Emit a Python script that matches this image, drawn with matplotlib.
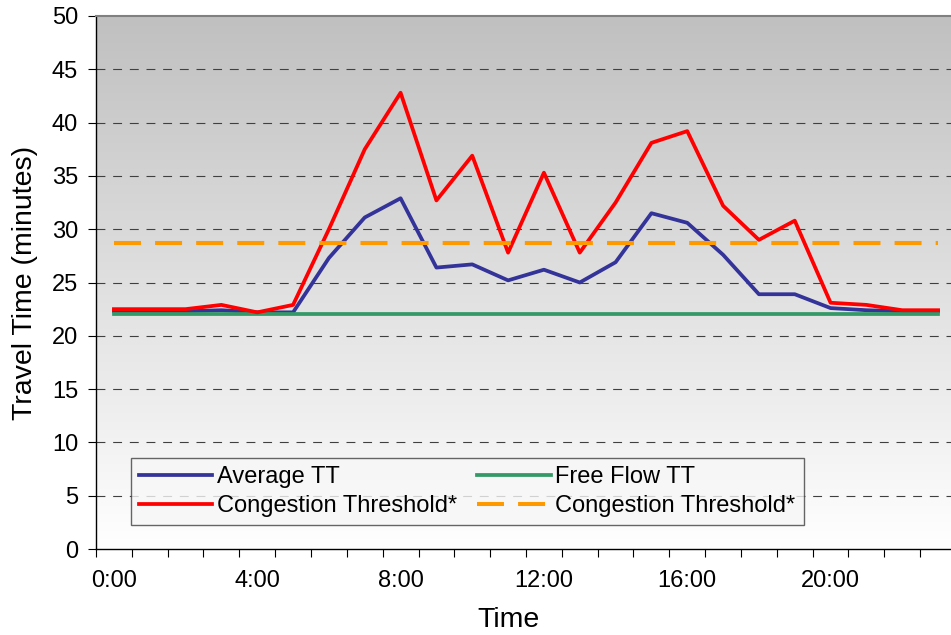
import numpy as np
import matplotlib
matplotlib.use("Agg")
import matplotlib.pyplot as plt

plt.rcParams['font.family'] = ['Liberation Sans', 'DejaVu Sans']

hours = [f"{h}:00" for h in range(24)]
average_tt = [22.3, 22.3, 22.3, 22.4, 22.2, 22.2, 27.3, 31.1, 32.9, 26.4, 26.7, 25.2,
              26.2, 25.0, 26.9, 31.5, 30.6, 27.6, 23.9, 23.9, 22.6, 22.4, 22.3, 22.3]
free_flow_tt = [22.0] * 24
congestion_red = [22.5, 22.5, 22.5, 22.9, 22.2, 22.9, 30.0, 37.5, 42.8, 32.7, 36.9, 27.8,
                  35.3, 27.8, 32.5, 38.1, 39.2, 32.2, 29.0, 30.8, 23.1, 22.9, 22.4, 22.4]
congestion_threshold = [28.7] * 24
label_hours = [0, 4, 8, 12, 16, 20]

W, H = 951, 635
fig = plt.figure(figsize=(W / 100, H / 100), dpi=100)
fig.patch.set_facecolor('white')
left, right, top, bottom = 96, 956, 16, 549
ax = fig.add_axes([left / W, (H - bottom) / H, (right - left) / W, (bottom - top) / H])

# gradient background
grad = np.linspace(192, 255, 256) / 255.0
img = np.dstack([grad, grad, grad]).reshape(256, 1, 3)
ax.imshow(img, extent=[0, 1, 0, 1], transform=ax.transAxes, aspect='auto', zorder=0)

x = np.arange(len(hours))
l_avg, = ax.plot(x, average_tt, color='#333399', lw=2.7, label='Average TT', zorder=3)
l_free, = ax.plot(x, free_flow_tt, color='#339966', lw=2.7, label='Free Flow TT', zorder=4)
l_red, = ax.plot(x, congestion_red, color='#ff0000', lw=2.7, label='Congestion Threshold*', zorder=5)
l_thr, = ax.plot(x, congestion_threshold, color='#ff9900', lw=2.9, dashes=(6.7, 3.5),
                 dash_capstyle='butt', label='Congestion Threshold*', zorder=6)

ax.set_xlim(-0.5, 23.5)
ax.set_ylim(0, 50)
ax.set_yticks(np.arange(0, 51, 5))
for yv in np.arange(5, 50, 5):
    ax.axhline(yv, color='#404040', lw=0.8, dashes=(8, 7), zorder=1)

ax.set_xticks(np.arange(-0.5, 24, 1))
ax.set_xticklabels([])
ax.set_xticks(label_hours, minor=True)
ax.set_xticklabels([hours[h] for h in label_hours], minor=True)
ax.tick_params(axis='x', which='major', direction='out', length=5.5, width=0.8, color='black')
ax.tick_params(axis='x', which='minor', length=0, pad=15, labelsize=17)
ax.tick_params(axis='y', direction='out', length=5.8, width=0.8, pad=7, labelsize=17)

for s in ['left', 'bottom']:
    ax.spines[s].set_color('black')
    ax.spines[s].set_linewidth(1.0)
ax.spines['top'].set_color('#808080')
ax.spines['top'].set_linewidth(1.5)
ax.spines['right'].set_visible(False)

ax.set_xlabel('Time', fontsize=20.5)
ax.xaxis.set_label_coords((508 - left) / (right - left), (bottom - 620) / (bottom - top))
ax.xaxis.label.set_va('center')
ax.set_ylabel('Travel Time (minutes)', fontsize=20.5)
ax.yaxis.set_label_coords((25 - left) / (right - left), (bottom - 283) / (bottom - top))
ax.yaxis.label.set_va('center')

leg = ax.legend([l_avg, l_red, l_free, l_thr],
                [l_avg.get_label(), l_red.get_label(), l_free.get_label(), l_thr.get_label()],
                ncol=2, loc='upper left',
                bbox_to_anchor=((131 - left) / (right - left), (bottom - 458) / (bottom - top)),
                borderaxespad=0, fontsize=17, frameon=True, fancybox=False,
                handlelength=3.1, handletextpad=0.2, columnspacing=0.85,
                labelspacing=0.28, borderpad=0.35)
leg.get_frame().set_edgecolor('#404040')
leg.get_frame().set_facecolor('#f7f7f7')
leg.get_frame().set_linewidth(1.0)
leg.set_zorder(10)

fig.savefig('out.png', dpi=100)
